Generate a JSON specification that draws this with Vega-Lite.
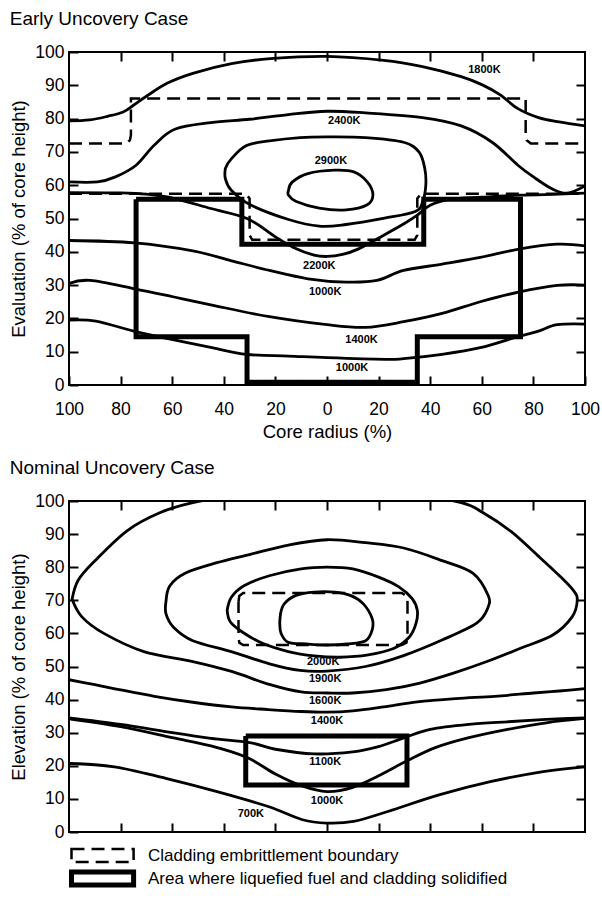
{
 "$schema": "https://vega.github.io/schema/vega-lite/v6.json",
 "padding": {"left": 8, "top": 9, "right": 12, "bottom": 4},
 "background": "#ffffff",
 "spacing": 16,
 "config": {
  "view": {"stroke": "#000", "strokeWidth": 2},
  "font": "Liberation Sans",
  "axis": {"domain": false, "grid": false, "tickColor": "#000", "tickWidth": 2, "tickSize": -9, "labelPadding": 14, "labelFontSize": 17.5, "labelColor": "#000", "labelFlush": false, "labelOverlap": false, "titleFontSize": 18.5, "titleFontWeight": "normal", "titleColor": "#000"},
  "title": {"fontSize": 19, "fontWeight": "normal", "anchor": "start", "frame": "bounds", "color": "#000", "offset": 14},
  "legend": {"orient": "bottom", "direction": "vertical", "title": null, "offset": 3, "symbolType": "M-1.0,-0.72H5.9V0.72H-1.0Z", "symbolSize": 324, "symbolStrokeColor": "#000", "symbolFillColor": "transparent", "labelFontSize": 17, "labelColor": "#000", "labelLimit": 600, "labelOffset": 56, "rowPadding": -8}
 },
 "datasets": {
  "topC": [
   {"id":"T1","o":0,"x":-100,"y":79.3},{"id":"T1","o":1,"x":-92,"y":79.6},{"id":"T1","o":2,"x":-85,"y":80.7},{"id":"T1","o":3,"x":-79,"y":82},{"id":"T1","o":4,"x":-75,"y":84},{"id":"T1","o":5,"x":-70,"y":86.7},{"id":"T1","o":6,"x":-62,"y":90.6},{"id":"T1","o":7,"x":-52,"y":93.6},{"id":"T1","o":8,"x":-37,"y":96.5},{"id":"T1","o":9,"x":-22,"y":98},{"id":"T1","o":10,"x":0,"y":98.7},{"id":"T1","o":11,"x":22,"y":97.5},{"id":"T1","o":12,"x":37,"y":95.6},{"id":"T1","o":13,"x":52,"y":92.6},{"id":"T1","o":14,"x":60,"y":90.2},{"id":"T1","o":15,"x":67,"y":87.2},{"id":"T1","o":16,"x":74,"y":83},{"id":"T1","o":17,"x":82,"y":80.3},{"id":"T1","o":18,"x":90,"y":79},{"id":"T1","o":19,"x":100,"y":77.8},
   {"id":"T2","o":0,"x":-100,"y":61},{"id":"T2","o":1,"x":-89,"y":61},{"id":"T2","o":2,"x":-82,"y":62.5},{"id":"T2","o":3,"x":-74,"y":66},{"id":"T2","o":4,"x":-67,"y":72},{"id":"T2","o":5,"x":-59,"y":76.8},{"id":"T2","o":6,"x":-45,"y":78.8},{"id":"T2","o":7,"x":-30,"y":79.8},{"id":"T2","o":8,"x":-15,"y":81.2},{"id":"T2","o":9,"x":0,"y":82.2},{"id":"T2","o":10,"x":15,"y":81.7},{"id":"T2","o":11,"x":37,"y":80.3},{"id":"T2","o":12,"x":52,"y":77.8},{"id":"T2","o":13,"x":64,"y":72.9},{"id":"T2","o":14,"x":74,"y":66},{"id":"T2","o":15,"x":80,"y":62.5},{"id":"T2","o":16,"x":87,"y":59},{"id":"T2","o":17,"x":93,"y":57.6},{"id":"T2","o":18,"x":100,"y":59.8},
   {"id":"T3","o":0,"x":-100,"y":57.8},{"id":"T3","o":1,"x":-80,"y":57.7},{"id":"T3","o":2,"x":-70,"y":57.3},{"id":"T3","o":3,"x":-59,"y":56},{"id":"T3","o":4,"x":-45,"y":53},{"id":"T3","o":5,"x":-31,"y":50},{"id":"T3","o":6,"x":-20,"y":44.5},{"id":"T3","o":7,"x":-13,"y":41.3},{"id":"T3","o":8,"x":-5,"y":39},{"id":"T3","o":9,"x":0,"y":38.6},{"id":"T3","o":10,"x":6,"y":39.2},{"id":"T3","o":11,"x":12,"y":40.8},{"id":"T3","o":12,"x":22,"y":45},{"id":"T3","o":13,"x":30,"y":48.5},{"id":"T3","o":14,"x":35,"y":51},{"id":"T3","o":15,"x":40,"y":54},{"id":"T3","o":16,"x":48,"y":55.8},{"id":"T3","o":17,"x":60,"y":56.4},{"id":"T3","o":18,"x":75,"y":57},{"id":"T3","o":19,"x":90,"y":57.3},{"id":"T3","o":20,"x":100,"y":57.6},
   {"id":"T4","o":0,"x":-39.4,"y":65},{"id":"T4","o":1,"x":-37.1,"y":67.9},{"id":"T4","o":2,"x":-31.2,"y":71.9},{"id":"T4","o":3,"x":-22.3,"y":73.3},{"id":"T4","o":4,"x":-10.4,"y":74.3},{"id":"T4","o":5,"x":0,"y":74.5},{"id":"T4","o":6,"x":14.9,"y":74.3},{"id":"T4","o":7,"x":29.7,"y":72.9},{"id":"T4","o":8,"x":35.7,"y":69.9},{"id":"T4","o":9,"x":37.9,"y":65},{"id":"T4","o":10,"x":38.3,"y":60},{"id":"T4","o":11,"x":37.1,"y":55.1},{"id":"T4","o":12,"x":34.2,"y":52.1},{"id":"T4","o":13,"x":22.3,"y":50.1},{"id":"T4","o":14,"x":7.4,"y":48.2},{"id":"T4","o":15,"x":-3,"y":47.7},{"id":"T4","o":16,"x":-14.9,"y":49.7},{"id":"T4","o":17,"x":-29.7,"y":54.1},{"id":"T4","o":18,"x":-37.1,"y":58.5},{"id":"T4","o":19,"x":-39.4,"y":62},{"id":"T4","o":20,"x":-39.4,"y":65},
   {"id":"T5","o":0,"x":-14.9,"y":58.5},{"id":"T5","o":1,"x":-13.4,"y":61},{"id":"T5","o":2,"x":-7.4,"y":63.5},{"id":"T5","o":3,"x":3,"y":64.5},{"id":"T5","o":4,"x":10.4,"y":64},{"id":"T5","o":5,"x":15.6,"y":61},{"id":"T5","o":6,"x":17.8,"y":57.1},{"id":"T5","o":7,"x":15.6,"y":54.1},{"id":"T5","o":8,"x":7.4,"y":52.6},{"id":"T5","o":9,"x":-3,"y":53.1},{"id":"T5","o":10,"x":-11.9,"y":55.1},{"id":"T5","o":11,"x":-14.9,"y":57},{"id":"T5","o":12,"x":-14.9,"y":58.5},
   {"id":"T6","o":0,"x":-100,"y":43.4},{"id":"T6","o":1,"x":-74.6,"y":42.7},{"id":"T6","o":2,"x":-52,"y":40.3},{"id":"T6","o":3,"x":-37,"y":37.3},{"id":"T6","o":4,"x":-22.3,"y":34.4},{"id":"T6","o":5,"x":-7.4,"y":31.9},{"id":"T6","o":6,"x":7.4,"y":30.9},{"id":"T6","o":7,"x":19.3,"y":31.4},{"id":"T6","o":8,"x":29.7,"y":34.4},{"id":"T6","o":9,"x":44.6,"y":36.3},{"id":"T6","o":10,"x":59.4,"y":38.3},{"id":"T6","o":11,"x":74.3,"y":40.8},{"id":"T6","o":12,"x":89.2,"y":42.3},{"id":"T6","o":13,"x":100,"y":41.8},
   {"id":"T7","o":0,"x":-100,"y":30.5},{"id":"T7","o":1,"x":-91.8,"y":31.4},{"id":"T7","o":2,"x":-74.6,"y":28.9},{"id":"T7","o":3,"x":-59.7,"y":26.5},{"id":"T7","o":4,"x":-44.6,"y":24},{"id":"T7","o":5,"x":-22.3,"y":20.5},{"id":"T7","o":6,"x":0,"y":18.1},{"id":"T7","o":7,"x":14.9,"y":17.3},{"id":"T7","o":8,"x":29.7,"y":19},{"id":"T7","o":9,"x":44.6,"y":21.5},{"id":"T7","o":10,"x":59.4,"y":25},{"id":"T7","o":11,"x":74.3,"y":27.9},{"id":"T7","o":12,"x":89.2,"y":29.9},{"id":"T7","o":13,"x":100,"y":30},
   {"id":"T8","o":0,"x":-100,"y":19.5},{"id":"T8","o":1,"x":-89.6,"y":19.2},{"id":"T8","o":2,"x":-74.6,"y":16.1},{"id":"T8","o":3,"x":-59.7,"y":13.6},{"id":"T8","o":4,"x":-44.6,"y":11.2},{"id":"T8","o":5,"x":-31.2,"y":9.2},{"id":"T8","o":6,"x":-14.9,"y":8.7},{"id":"T8","o":7,"x":0,"y":8.2},{"id":"T8","o":8,"x":22.3,"y":7.7},{"id":"T8","o":9,"x":29.7,"y":7.9},{"id":"T8","o":10,"x":44.6,"y":9.2},{"id":"T8","o":11,"x":59.4,"y":11.2},{"id":"T8","o":12,"x":74.3,"y":14.6},{"id":"T8","o":13,"x":81.7,"y":16.1},{"id":"T8","o":14,"x":89.2,"y":18.1},{"id":"T8","o":15,"x":100,"y":18.3}
  ],
  "topB": [
   {"id":"D1","kind":"Cladding embrittlement boundary","o":0,"x":-100,"y":72.5},{"id":"D1","kind":"Cladding embrittlement boundary","o":1,"x":-78,"y":72.5},{"id":"D1","kind":"Cladding embrittlement boundary","o":2,"x":-76.4,"y":73.5},{"id":"D1","kind":"Cladding embrittlement boundary","o":3,"x":-76,"y":75},{"id":"D1","kind":"Cladding embrittlement boundary","o":4,"x":-76,"y":86},{"id":"D1","kind":"Cladding embrittlement boundary","o":5,"x":77,"y":86},{"id":"D1","kind":"Cladding embrittlement boundary","o":6,"x":77,"y":75},{"id":"D1","kind":"Cladding embrittlement boundary","o":7,"x":77.4,"y":73.5},{"id":"D1","kind":"Cladding embrittlement boundary","o":8,"x":79,"y":72.5},{"id":"D1","kind":"Cladding embrittlement boundary","o":9,"x":100,"y":72.5},
   {"id":"D2","kind":"Cladding embrittlement boundary","o":0,"x":-100,"y":57.4},{"id":"D2","kind":"Cladding embrittlement boundary","o":1,"x":-31.5,"y":57.4},{"id":"D2","kind":"Cladding embrittlement boundary","o":2,"x":-30,"y":56},{"id":"D2","kind":"Cladding embrittlement boundary","o":3,"x":-30,"y":45},{"id":"D2","kind":"Cladding embrittlement boundary","o":4,"x":-29,"y":43.6},{"id":"D2","kind":"Cladding embrittlement boundary","o":5,"x":34,"y":43.6},{"id":"D2","kind":"Cladding embrittlement boundary","o":6,"x":35,"y":45},{"id":"D2","kind":"Cladding embrittlement boundary","o":7,"x":35,"y":56},{"id":"D2","kind":"Cladding embrittlement boundary","o":8,"x":36.5,"y":57.4},{"id":"D2","kind":"Cladding embrittlement boundary","o":9,"x":100,"y":57.4},
   {"id":"S1","kind":"Area where liquefied fuel and cladding solidified","o":0,"x":-74,"y":55.8},{"id":"S1","kind":"Area where liquefied fuel and cladding solidified","o":1,"x":-33,"y":55.8},{"id":"S1","kind":"Area where liquefied fuel and cladding solidified","o":2,"x":-33,"y":42.3},{"id":"S1","kind":"Area where liquefied fuel and cladding solidified","o":3,"x":37.5,"y":42.3},{"id":"S1","kind":"Area where liquefied fuel and cladding solidified","o":4,"x":37.5,"y":55.8},{"id":"S1","kind":"Area where liquefied fuel and cladding solidified","o":5,"x":75,"y":55.8},{"id":"S1","kind":"Area where liquefied fuel and cladding solidified","o":6,"x":75,"y":14.5},{"id":"S1","kind":"Area where liquefied fuel and cladding solidified","o":7,"x":35,"y":14.5},{"id":"S1","kind":"Area where liquefied fuel and cladding solidified","o":8,"x":35,"y":0.8},{"id":"S1","kind":"Area where liquefied fuel and cladding solidified","o":9,"x":-31,"y":0.8},{"id":"S1","kind":"Area where liquefied fuel and cladding solidified","o":10,"x":-31,"y":14.5},{"id":"S1","kind":"Area where liquefied fuel and cladding solidified","o":11,"x":-74,"y":14.5},{"id":"S1","kind":"Area where liquefied fuel and cladding solidified","o":12,"x":-74,"y":55.8}
  ],
  "topL": [
   {"x":61,"y":94.6,"t":"1800K"},{"x":6.7,"y":79.3,"t":"2400K"},{"x":1.5,"y":67.4,"t":"2900K"},{"x":-3,"y":35.8,"t":"2200K"},{"x":-0.7,"y":27.9,"t":"1000K"},{"x":13.4,"y":13.6,"t":"1400K"},{"x":9.7,"y":5.2,"t":"1000K"}
  ],
  "botC": [
   {"id":"B0","o":0,"x":-18,"y":66},{"id":"B0","o":1,"x":-16.5,"y":69},{"id":"B0","o":2,"x":-12,"y":71.5},{"id":"B0","o":3,"x":-5,"y":72.5},{"id":"B0","o":4,"x":3,"y":72.5},{"id":"B0","o":5,"x":9,"y":71.5},{"id":"B0","o":6,"x":14,"y":69},{"id":"B0","o":7,"x":17.5,"y":64.5},{"id":"B0","o":8,"x":17.5,"y":61},{"id":"B0","o":9,"x":15,"y":57.8},{"id":"B0","o":10,"x":8,"y":56.8},{"id":"B0","o":11,"x":0,"y":56.5},{"id":"B0","o":12,"x":-8,"y":56.8},{"id":"B0","o":13,"x":-15,"y":57.3},{"id":"B0","o":14,"x":-17.8,"y":60},{"id":"B0","o":15,"x":-18.3,"y":63},{"id":"B0","o":16,"x":-18,"y":66},
   {"id":"BC","o":0,"x":-38.7,"y":67},{"id":"BC","o":1,"x":-37,"y":71},{"id":"BC","o":2,"x":-32,"y":74.5},{"id":"BC","o":3,"x":-22,"y":77.5},{"id":"BC","o":4,"x":-10,"y":79.5},{"id":"BC","o":5,"x":0,"y":80},{"id":"BC","o":6,"x":10,"y":79.5},{"id":"BC","o":7,"x":20,"y":77},{"id":"BC","o":8,"x":28,"y":74},{"id":"BC","o":9,"x":33,"y":70.5},{"id":"BC","o":10,"x":35,"y":67},{"id":"BC","o":11,"x":34.5,"y":63},{"id":"BC","o":12,"x":32,"y":59},{"id":"BC","o":13,"x":26,"y":55.5},{"id":"BC","o":14,"x":16,"y":53.5},{"id":"BC","o":15,"x":5,"y":52.8},{"id":"BC","o":16,"x":-5,"y":53.2},{"id":"BC","o":17,"x":-15,"y":54.5},{"id":"BC","o":18,"x":-25,"y":57},{"id":"BC","o":19,"x":-33,"y":60.5},{"id":"BC","o":20,"x":-37.5,"y":63.5},{"id":"BC","o":21,"x":-38.7,"y":67},
   {"id":"BB","o":0,"x":-62.4,"y":69.7},{"id":"BB","o":1,"x":-60.9,"y":74.4},{"id":"BB","o":2,"x":-55,"y":78.2},{"id":"BB","o":3,"x":-43,"y":81.3},{"id":"BB","o":4,"x":-29.7,"y":83.9},{"id":"BB","o":5,"x":-14.9,"y":86.7},{"id":"BB","o":6,"x":0,"y":88.3},{"id":"BB","o":7,"x":14.9,"y":87.4},{"id":"BB","o":8,"x":29.7,"y":85.8},{"id":"BB","o":9,"x":44.6,"y":82},{"id":"BB","o":10,"x":56.5,"y":78.2},{"id":"BB","o":11,"x":62.4,"y":71.6},{"id":"BB","o":12,"x":62.4,"y":67.8},{"id":"BB","o":13,"x":58,"y":63.1},{"id":"BB","o":14,"x":44.6,"y":58},{"id":"BB","o":15,"x":29.7,"y":53.3},{"id":"BB","o":16,"x":14.9,"y":50},{"id":"BB","o":17,"x":0,"y":48.6},{"id":"BB","o":18,"x":-10.4,"y":48.8},{"id":"BB","o":19,"x":-22.3,"y":50.8},{"id":"BB","o":20,"x":-37.1,"y":54.5},{"id":"BB","o":21,"x":-52,"y":57.8},{"id":"BB","o":22,"x":-59.4,"y":61.8},{"id":"BB","o":23,"x":-62.4,"y":65.9},{"id":"BB","o":24,"x":-62.4,"y":69.7},
   {"id":"BA","o":0,"x":-98.8,"y":70.3},{"id":"BA","o":1,"x":-96.5,"y":76},{"id":"BA","o":2,"x":-90.5,"y":81.5},{"id":"BA","o":3,"x":-77.5,"y":91},{"id":"BA","o":4,"x":-64.6,"y":96.5},{"id":"BA","o":5,"x":-52,"y":99.5},{"id":"BA","o":6,"x":-30,"y":102.5},{"id":"BA","o":7,"x":0,"y":104},{"id":"BA","o":8,"x":30,"y":102.5},{"id":"BA","o":9,"x":52,"y":99.5},{"id":"BA","o":10,"x":60.2,"y":96.6},{"id":"BA","o":11,"x":71.3,"y":90.8},{"id":"BA","o":12,"x":81.7,"y":83.5},{"id":"BA","o":13,"x":90,"y":77.5},{"id":"BA","o":14,"x":95.5,"y":73},{"id":"BA","o":15,"x":97,"y":70},{"id":"BA","o":16,"x":95,"y":65},{"id":"BA","o":17,"x":87.5,"y":59.5},{"id":"BA","o":18,"x":75,"y":55.5},{"id":"BA","o":19,"x":62,"y":51.5},{"id":"BA","o":20,"x":49,"y":48},{"id":"BA","o":21,"x":36,"y":45},{"id":"BA","o":22,"x":23,"y":43},{"id":"BA","o":23,"x":10,"y":42},{"id":"BA","o":24,"x":0,"y":42},{"id":"BA","o":25,"x":-10,"y":42.3},{"id":"BA","o":26,"x":-22,"y":44.5},{"id":"BA","o":27,"x":-37,"y":48.5},{"id":"BA","o":28,"x":-52,"y":51.5},{"id":"BA","o":29,"x":-71,"y":54.5},{"id":"BA","o":30,"x":-86.5,"y":60},{"id":"BA","o":31,"x":-95,"y":65},{"id":"BA","o":32,"x":-98.8,"y":70.3},
   {"id":"BD","o":0,"x":-100,"y":46},{"id":"BD","o":1,"x":-90,"y":44.5},{"id":"BD","o":2,"x":-81.7,"y":43.2},{"id":"BD","o":3,"x":-66.9,"y":41},{"id":"BD","o":4,"x":-52,"y":39.2},{"id":"BD","o":5,"x":-37,"y":37.8},{"id":"BD","o":6,"x":-22.8,"y":37},{"id":"BD","o":7,"x":-10,"y":36.4},{"id":"BD","o":8,"x":0,"y":36.2},{"id":"BD","o":9,"x":10,"y":36.6},{"id":"BD","o":10,"x":22,"y":37.8},{"id":"BD","o":11,"x":35,"y":39.3},{"id":"BD","o":12,"x":50,"y":40.3},{"id":"BD","o":13,"x":65,"y":41},{"id":"BD","o":14,"x":80,"y":42},{"id":"BD","o":15,"x":90,"y":42.6},{"id":"BD","o":16,"x":100,"y":43.3},
   {"id":"BE","o":0,"x":-100,"y":34.5},{"id":"BE","o":1,"x":-80,"y":32.5},{"id":"BE","o":2,"x":-60,"y":30},{"id":"BE","o":3,"x":-45,"y":28.3},{"id":"BE","o":4,"x":-30,"y":27},{"id":"BE","o":5,"x":-20,"y":25},{"id":"BE","o":6,"x":-5,"y":23.6},{"id":"BE","o":7,"x":10,"y":24.2},{"id":"BE","o":8,"x":20,"y":25.8},{"id":"BE","o":9,"x":30,"y":28.5},{"id":"BE","o":10,"x":40,"y":31},{"id":"BE","o":11,"x":55,"y":32.5},{"id":"BE","o":12,"x":70,"y":33.3},{"id":"BE","o":13,"x":85,"y":34},{"id":"BE","o":14,"x":100,"y":34.5},
   {"id":"BF","o":0,"x":-100,"y":34.2},{"id":"BF","o":1,"x":-80,"y":31.8},{"id":"BF","o":2,"x":-60,"y":28.5},{"id":"BF","o":3,"x":-45,"y":26},{"id":"BF","o":4,"x":-31,"y":22.5},{"id":"BF","o":5,"x":-20,"y":17.5},{"id":"BF","o":6,"x":-10,"y":14},{"id":"BF","o":7,"x":0,"y":12.2},{"id":"BF","o":8,"x":10,"y":13.5},{"id":"BF","o":9,"x":20,"y":17},{"id":"BF","o":10,"x":31,"y":21.5},{"id":"BF","o":11,"x":42,"y":25.5},{"id":"BF","o":12,"x":55,"y":28.5},{"id":"BF","o":13,"x":70,"y":31},{"id":"BF","o":14,"x":85,"y":33},{"id":"BF","o":15,"x":100,"y":34.3},
   {"id":"BG","o":0,"x":-100,"y":20.7},{"id":"BG","o":1,"x":-82.4,"y":19.7},{"id":"BG","o":2,"x":-62.5,"y":16.2},{"id":"BG","o":3,"x":-42.6,"y":12.2},{"id":"BG","o":4,"x":-22.8,"y":7.7},{"id":"BG","o":5,"x":-9.5,"y":3.7},{"id":"BG","o":6,"x":0,"y":2.7},{"id":"BG","o":7,"x":10.3,"y":3.2},{"id":"BG","o":8,"x":23.6,"y":6.2},{"id":"BG","o":9,"x":43.4,"y":11.2},{"id":"BG","o":10,"x":63.3,"y":15.2},{"id":"BG","o":11,"x":83.2,"y":18.2},{"id":"BG","o":12,"x":100,"y":19.7}
  ],
  "botB": [
   {"id":"D3","kind":"Cladding embrittlement boundary","o":0,"x":-34.3,"y":69.5},{"id":"D3","kind":"Cladding embrittlement boundary","o":1,"x":-34,"y":71.3},{"id":"D3","kind":"Cladding embrittlement boundary","o":2,"x":-32.5,"y":72.2},{"id":"D3","kind":"Cladding embrittlement boundary","o":3,"x":29,"y":72.2},{"id":"D3","kind":"Cladding embrittlement boundary","o":4,"x":30.8,"y":71.3},{"id":"D3","kind":"Cladding embrittlement boundary","o":5,"x":31.2,"y":69.5},{"id":"D3","kind":"Cladding embrittlement boundary","o":6,"x":31.2,"y":59},{"id":"D3","kind":"Cladding embrittlement boundary","o":7,"x":30.8,"y":57.2},{"id":"D3","kind":"Cladding embrittlement boundary","o":8,"x":29,"y":56.5},{"id":"D3","kind":"Cladding embrittlement boundary","o":9,"x":-32.5,"y":56.5},{"id":"D3","kind":"Cladding embrittlement boundary","o":10,"x":-34,"y":57.2},{"id":"D3","kind":"Cladding embrittlement boundary","o":11,"x":-34.3,"y":59},{"id":"D3","kind":"Cladding embrittlement boundary","o":12,"x":-34.3,"y":69.5},
   {"id":"S2","kind":"Area where liquefied fuel and cladding solidified","o":0,"x":-31.5,"y":29},{"id":"S2","kind":"Area where liquefied fuel and cladding solidified","o":1,"x":31,"y":29},{"id":"S2","kind":"Area where liquefied fuel and cladding solidified","o":2,"x":31,"y":14.2},{"id":"S2","kind":"Area where liquefied fuel and cladding solidified","o":3,"x":-31.5,"y":14.2},{"id":"S2","kind":"Area where liquefied fuel and cladding solidified","o":4,"x":-31.5,"y":29}
  ],
  "botL": [
   {"x":-1.5,"y":51.4,"t":"2000K"},{"x":-0.7,"y":46.3,"t":"1900K"},{"x":-0.7,"y":39.6,"t":"1600K"},{"x":0,"y":33.5,"t":"1400K"},{"x":-0.7,"y":21,"t":"1100K"},{"x":0,"y":9.4,"t":"1000K"},{"x":-29.5,"y":5.4,"t":"700K"}
  ]
 },
 "vconcat": [
  {
   "title": {"text": "Early Uncovery Case"},
   "width": 516, "height": 333,
   "layer": [
    {"data": {"name": "topC"},
     "mark": {"type": "line", "interpolate": "cardinal", "stroke": "#000", "strokeWidth": 2.8, "clip": true, "strokeCap": "round"},
     "encoding": {
      "x": {"field": "x", "type": "quantitative", "scale": {"domain": [-100, 100], "nice": false, "zero": false}, "axis": {"orient": "bottom", "values": [-100, -80, -60, -40, -20, 0, 20, 40, 60, 80, 100], "labelExpr": "abs(datum.value)", "labelPadding": 24, "title": "Core radius (%)", "titlePadding": 5}},
      "y": {"field": "y", "type": "quantitative", "scale": {"domain": [0, 100], "nice": false, "zero": false}, "axis": {"orient": "left", "values": [0, 10, 20, 30, 40, 50, 60, 70, 80, 90, 100], "title": "Evaluation (% of core height)", "titlePadding": 6}},
      "detail": {"field": "id"},
      "order": {"field": "o"}
     }},
    {"data": {"name": "topB"},
     "mark": {"type": "line", "stroke": "#000", "strokeJoin": "miter", "strokeCap": "butt"},
     "encoding": {
      "x": {"field": "x", "type": "quantitative", "axis": {"orient": "top", "values": [-80, -60, -40, -20, 0, 20, 40, 60, 80], "labels": false, "title": null}},
      "y": {"field": "y", "type": "quantitative", "axis": {"orient": "right", "values": [10, 20, 30, 40, 50, 60, 70, 80, 90], "labels": false, "title": null}},
      "detail": {"field": "id"},
      "order": {"field": "o"},
      "strokeDash": {"field": "kind", "type": "nominal", "scale": {"domain": ["Cladding embrittlement boundary", "Area where liquefied fuel and cladding solidified"], "range": [[13, 7], [1, 0]]}},
      "strokeWidth": {"field": "kind", "type": "ordinal", "scale": {"domain": ["Cladding embrittlement boundary", "Area where liquefied fuel and cladding solidified"], "range": [2.5, 5]}}
     }},
    {"data": {"name": "topL"},
     "mark": {"type": "text", "fontSize": 11, "fontWeight": "bold", "color": "#000"},
     "encoding": {
      "x": {"field": "x", "type": "quantitative", "axis": null},
      "y": {"field": "y", "type": "quantitative", "axis": null},
      "text": {"field": "t"}
     }}
   ],
   "resolve": {"axis": {"x": "independent", "y": "independent"}}
  },
  {
   "title": {"text": "Nominal Uncovery Case"},
   "width": 516, "height": 331,
   "layer": [
    {"data": {"name": "botC"},
     "mark": {"type": "line", "interpolate": "cardinal", "stroke": "#000", "strokeWidth": 2.8, "clip": true, "strokeCap": "round"},
     "encoding": {
      "x": {"field": "x", "type": "quantitative", "scale": {"domain": [-100, 100], "nice": false, "zero": false}, "axis": {"orient": "bottom", "values": [-80, -60, -40, -20, 0, 20, 40, 60, 80], "labels": false, "title": null}},
      "y": {"field": "y", "type": "quantitative", "scale": {"domain": [0, 100], "nice": false, "zero": false}, "axis": {"orient": "left", "values": [0, 10, 20, 30, 40, 50, 60, 70, 80, 90, 100], "title": "Elevation (% of core height)", "titlePadding": 6}},
      "detail": {"field": "id"},
      "order": {"field": "o"}
     }},
    {"data": {"name": "botB"},
     "mark": {"type": "line", "stroke": "#000", "strokeJoin": "miter", "strokeCap": "butt"},
     "encoding": {
      "x": {"field": "x", "type": "quantitative", "axis": {"orient": "top", "values": [-80, -60, -40, -20, 0, 20, 40, 60, 80], "labels": false, "title": null}},
      "y": {"field": "y", "type": "quantitative", "axis": {"orient": "right", "values": [10, 20, 30, 40, 50, 60, 70, 80, 90], "labels": false, "title": null}},
      "detail": {"field": "id"},
      "order": {"field": "o"},
      "strokeDash": {"field": "kind", "type": "nominal", "scale": {"domain": ["Cladding embrittlement boundary", "Area where liquefied fuel and cladding solidified"], "range": [[13, 7], [1, 0]]}},
      "strokeWidth": {"field": "kind", "type": "ordinal", "scale": {"domain": ["Cladding embrittlement boundary", "Area where liquefied fuel and cladding solidified"], "range": [2.5, 5]}}
     }},
    {"data": {"name": "botL"},
     "mark": {"type": "text", "fontSize": 11, "fontWeight": "bold", "color": "#000"},
     "encoding": {
      "x": {"field": "x", "type": "quantitative", "axis": null},
      "y": {"field": "y", "type": "quantitative", "axis": null},
      "text": {"field": "t"}
     }}
   ],
   "resolve": {"axis": {"x": "independent", "y": "independent"}}
  }
 ]
}
